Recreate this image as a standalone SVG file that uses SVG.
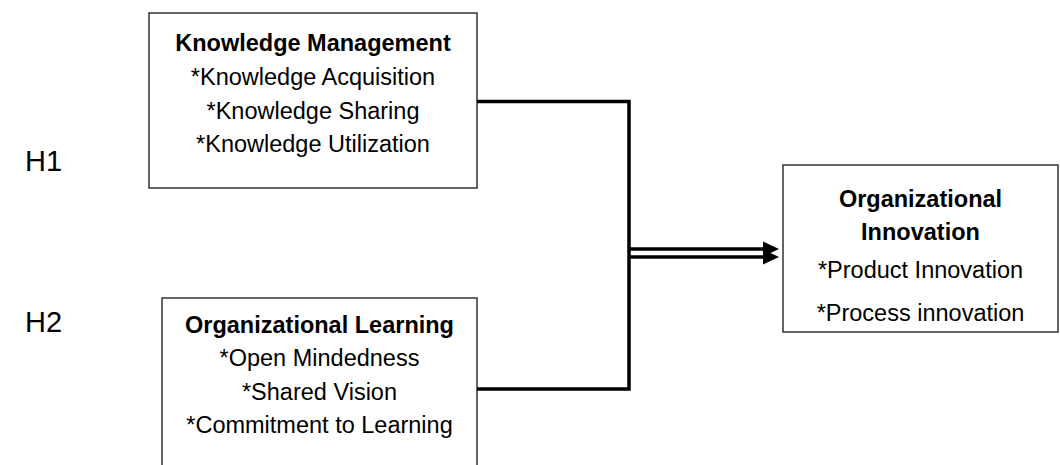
<svg xmlns="http://www.w3.org/2000/svg" width="1060" height="465" viewBox="0 0 1060 465">
<style>
.box{fill:#fff;stroke:#333;stroke-width:1.5}
.t{font-family:"Liberation Sans",Arial,sans-serif;font-size:23.5px;fill:#000;text-anchor:middle}
.b{font-weight:bold}
.h{font-family:"Liberation Sans",Arial,sans-serif;font-size:29px;fill:#000}
.c{fill:none;stroke:#000;stroke-width:3.5}
</style>
<rect width="1060" height="465" fill="#fff"/>
<g id="h-labels">
<text class="h" x="25" y="171">H1</text>
<text class="h" x="25" y="332">H2</text>
</g>
<g id="node-km">
<rect class="box" x="149" y="13" width="328" height="175"/>
<text class="t b" x="313" y="51">Knowledge Management</text>
<text class="t" x="313" y="85">*Knowledge Acquisition</text>
<text class="t" x="313" y="119">*Knowledge Sharing</text>
<text class="t" x="313" y="152">*Knowledge Utilization</text>
</g>
<g id="node-ol">
<rect class="box" x="162" y="298" width="315" height="180"/>
<text class="t b" x="319.5" y="333">Organizational Learning</text>
<text class="t" x="319.5" y="366">*Open Mindedness</text>
<text class="t" x="319.5" y="400">*Shared Vision</text>
<text class="t" x="319.5" y="433">*Commitment to Learning</text>
</g>
<g id="node-oi">
<rect class="box" x="783" y="165" width="275" height="167"/>
<text class="t b" x="920.5" y="207">Organizational</text>
<text class="t b" x="920.5" y="240">Innovation</text>
<text class="t" x="920.5" y="278">*Product Innovation</text>
<text class="t" x="920.5" y="321">*Process innovation</text>
</g>
<g id="connectors">
<polyline class="c" points="477,101.5 629,101.5 629,389 477,389"/>
<line class="c" x1="629" y1="249" x2="768" y2="249"/>
<line class="c" x1="629" y1="257" x2="768" y2="257"/>
<polygon points="763,241.5 779,249 763,256.5" fill="#000"/>
<polygon points="763,249.5 779,257 763,264.5" fill="#000"/>
</g>
</svg>
